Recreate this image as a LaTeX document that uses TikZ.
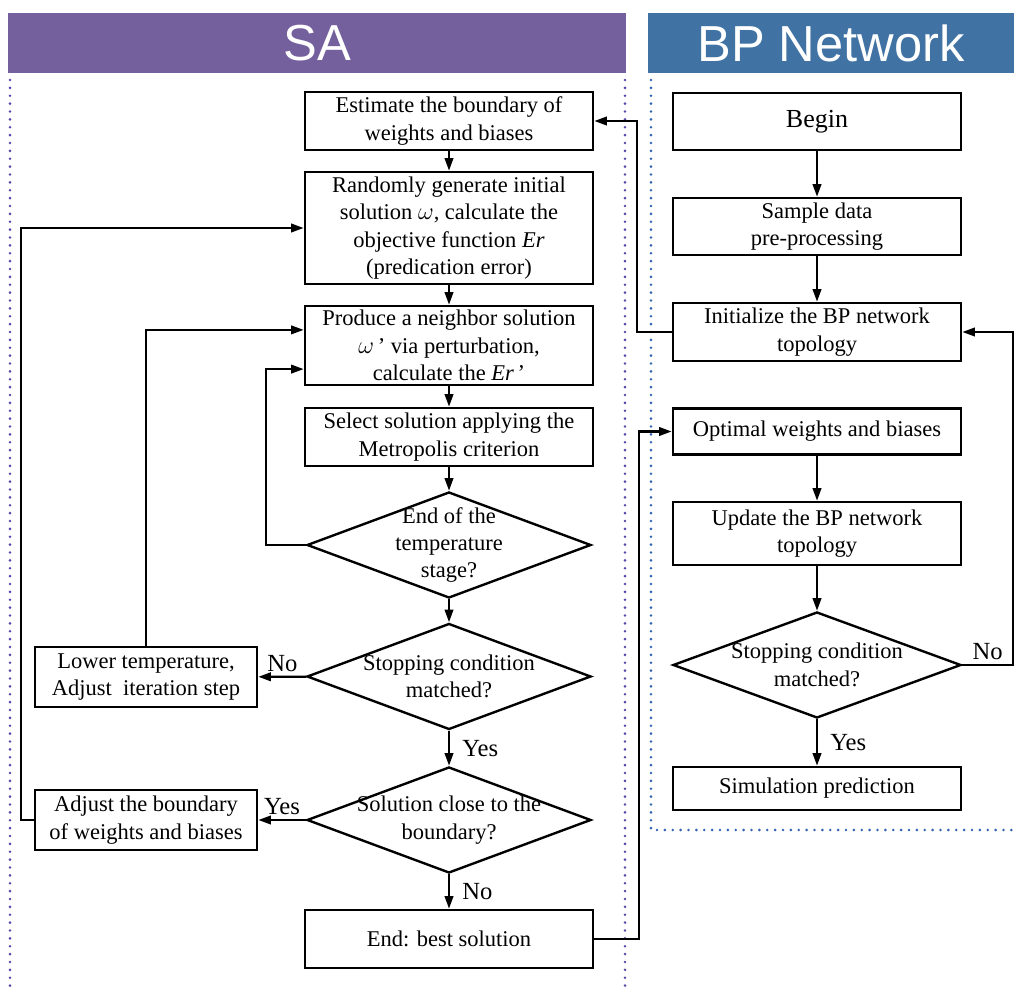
\documentclass[tikz,border=0pt]{standalone}
\usepackage{fontspec}
\setmainfont{Liberation Serif}
\newfontfamily\headfont{Liberation Sans}
\usetikzlibrary{shapes.geometric, arrows.meta}
\definecolor{saPurple}{RGB}{117,96,158}
\definecolor{bpBlue}{RGB}{64,114,164}
\definecolor{dotPurple}{RGB}{90,70,170}
\definecolor{dotBlue}{RGB}{50,100,180}
\begin{document}
\begin{tikzpicture}[x=0.025cm, y=-0.025cm, ->, >={Triangle[length=9pt, width=6pt]}, line width=1.7pt,
  box/.style={rectangle, draw, minimum width=7.2cm, minimum height=1.45cm, inner sep=1pt, align=center, font=\fontsize{16}{19.5}\selectfont},
  decision/.style={diamond, draw, minimum width=7.1cm, minimum height=2.65cm, inner sep=0pt},
  dtext/.style={align=center, font=\fontsize{16}{19.5}\selectfont},
  lbl/.style={font=\fontsize{17.5}{20}\selectfont, inner sep=3pt},
  head/.style={fill=#1, text=white, minimum height=1.5cm, font=\headfont\fontsize{36}{40}\selectfont},
  dots/.style={-, draw=#1, line width=2pt, dash pattern=on 0pt off 5.6pt, line cap=round}]
\useasboundingbox (0,0) rectangle (1014,990);

% headers
\node[head=saPurple, minimum width=15.45cm] (sa) at (317,43) {SA};
\node[head=bpBlue, minimum width=9.15cm] (bp) at (831,43) {BP Network};
\draw[dots=dotPurple] (10,80) -- (10,990);
\draw[dots=dotPurple] (625,80) -- (625,990);
\draw[dots=dotBlue] (651,80) -- (651,830) -- (1014,830);

% SA side
\node[box] (est) at (449,121) {Estimate the boundary of\\weights and biases};
\node[box, minimum height=2.8cm] (rnd) at (449,228) {Randomly generate initial\\solution $\omega$, calculate the\\objective function \textit{Er}\\(predication error)};
\node[box, minimum height=1.975cm] (prd) at (449,345.5) {Produce a neighbor solution\\$\omega$\,' via perturbation,\\calculate the \textit{Er}\,'};
\node[box] (sel) at (449,437) {Select solution applying the\\Metropolis criterion};
\node[decision, label={[dtext]center:End of the\\temperature\\stage?}] (d1) at (449,545) {};
\node[decision, label={[dtext]center:Stopping condition\\matched?}] (d2) at (449,676.5) {};
\node[decision, label={[dtext]center:Solution close to the\\boundary?}] (d3) at (449,820) {};
\node[box] (end) at (449,939) {End: best solution};
\node[box, minimum width=5.55cm, minimum height=1.5cm] (low) at (146,677) {Lower temperature,\\Adjust~ iteration step};
\node[box, minimum width=5.55cm, minimum height=1.5cm] (adj) at (146,820) {Adjust the boundary\\of weights and biases};

% BP side
\node[box, minimum height=1.425cm, font=\fontsize{18.5}{22}\selectfont] (beg) at (817,121.5) {Begin};
\node[box, minimum height=1.425cm] (smp) at (817,226.5) {Sample data\\pre-processing};
\node[box] (ini) at (817,332) {Initialize the BP network\\topology};
\node[box, minimum height=1.15cm] (opt) at (817,431.5) {Optimal weights and biases};
\node[box, minimum height=1.575cm] (upd) at (817,533.5) {Update the BP network\\topology};
\node[decision, minimum width=7.2cm, label={[dtext]center:Stopping condition\\matched?}] (bpd) at (817,665) {};
\node[box, minimum height=1.075cm] (sim) at (817,788.5) {Simulation prediction};

\path (est) edge (rnd);
\path (rnd) edge (prd);
\path (prd) edge (sel);
\path (sel) edge (d1);
\path (d1) edge (d2);
\path (d2) edge node[right=0.2cm,lbl] {Yes} (d3);
\path (d3) edge node[right=0.2cm,lbl] {No} (end);
\path (d2) edge node[above,lbl] {No} (low);
\path (d3) edge node[above,lbl] {Yes} (adj);
\draw (low.north) |- ([yshift=0.39cm]prd.west);
\draw (d1.west) -- ++(-40,0) |- ([yshift=-0.59cm]prd.west);
\draw (adj.west) -- ++(-13,0) |- (rnd.west);

\path (beg) edge (smp);
\path (smp) edge (ini);
\path (opt) edge (upd);
\path (upd) edge (bpd);
\path (bpd) edge node[right=0.2cm,lbl] {Yes} (sim);
\draw (bpd.east) -- ++(51,0) node[midway,above,lbl] {No} |- (ini.east);
\draw (ini.west) -- ++(-35,0) |- (est.east);
\draw (end.east) -- ++(45,0) |- (opt.west);
\end{tikzpicture}
\end{document}
